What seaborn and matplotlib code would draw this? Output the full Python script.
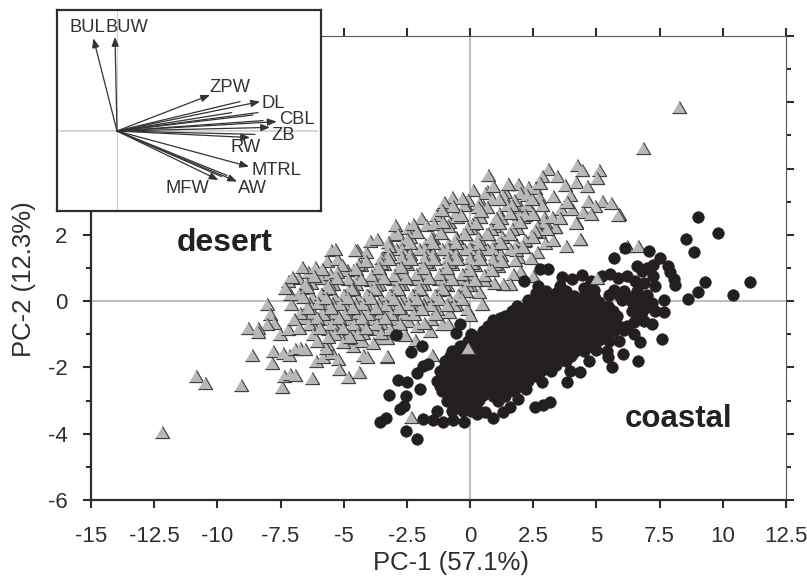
import matplotlib
matplotlib.use("Agg")
import matplotlib.pyplot as plt
import pandas as pd
import seaborn as sns

# valeurs (PC-1, PC-2)
desert_tail = [(-12.19,-3.95),(-10.84,-2.27),(-10.49,-2.46),(-9.06,-2.54),(-8.62,-1.63),(-7.44,-2.6),(-7.36,-2.27),
    (-7.12,-2.2),(-6.93,-2.22),(-6.26,-2.33),(-7.85,-1.88),(-7.78,-1.5),(-7.4,-1.56),(-7.17,-1.62),(-6.93,-1.43),
    (-6.73,-1.42),(-6.53,-1.45),(-6.09,-1.8),(-5.83,-1.68),(-5.47,-1.56),(-5.21,-1.75),(-5.17,-2.06),(-4.82,-2.28),
    (-4.38,-2.13),(-4.22,-1.62),(-4.09,-1.68),(-3.3,-1.68),(-4.64,-1.35),(-4.29,-1.2),(-5.67,-1.3),(-5.7,-1.4),
    (-8.05,-0.08),(-7.91,-0.4),(-7.76,-0.65),(-8.05,-0.7),(-8.78,-0.8),(-8.38,-0.8),(-8.38,-0.92),(-7.52,-0.98),
    (-7.2,-0.85),(-7.08,-0.08)]
desert_head = [(8.27,5.85),(6.83,4.62),(4.25,4.1),(3.1,4.0),(5.1,3.97),(4.42,3.97),(5.04,3.72),(3.43,3.78),(2.84,3.78),
    (3.76,3.5),(4.19,3.58),(4.62,3.48),(1.51,3.54),(1.9,3.54),(2.3,3.45),(2.57,3.4),(2.77,3.55),(3.29,3.18),(3.96,3.21),
    (2.73,3.13),(1.98,3.25),(1.39,3.3),(4.67,3.03),(5.21,3.03),(5.57,2.95),(4.95,2.88),(5.9,2.64),(3.59,2.77),(4.02,2.77),
    (4.46,2.7),(4.78,2.64),(3.83,3.0),(2.84,2.91),(2.93,2.55),(2.44,2.68),(1.98,2.83),(3.36,2.23),(4.19,2.38),(4.35,1.89),
    (6.2,1.67),(6.65,1.67),(4.2,2.35),(4.35,1.86),(3.79,1.65),(5.86,2.6),(2.97,1.75),(3.36,2.25)]
desert_edge = [(2.5,0.75),(1.98,0.9),(1.7,0.82),(1.58,0.51),(1.31,0.51),(0.95,0.55),(0.36,0.28),(0.46,-0.08),(-0.13,-0.25),
    (0,-0.42),(-0.83,-0.32),(-2.45,-0.6),(-2.11,-0.75),(-1.58,-0.9),(-1.12,-0.7),(-0.87,-0.7),(-2.18,-1.17),(-3.64,-1.1),
    (-3.28,-1.67),(-1.52,-1.62),(-6.8,0.7),(-7.2,0.6),(-5.5,1.53),(-5.66,1.2),(-4.47,1.53),(-3.96,1.8),(-3.68,1.86),
    (-3.05,2.0),(-2.97,2.3),(-1.94,2.5),(-1.07,2.94),(-0.71,3.15),(-0.2,2.94),(0.51,2.88),(0.67,3.33),(0.71,3.8),(1.5,3.54)]
desert_over = [(-0.08,-1.4),(-2.35,-3.5),(5.01,0.7)]
desert_up = [(0.12,3.34),(-0.07,3.05),(0.58,3.26),(0.92,3.48),(1.34,3.14),(1.72,3.06),(2.24,3.2),(0.37,2.95),(0.88,3.08),
    (-1.04,3.0),(-0.55,2.7),(-0.24,2.9),(0.3,2.62),(0.66,2.84),(1.14,2.66),(1.46,2.9),(1.94,2.64),(2.27,2.9),
    (-1.36,2.6),(-0.85,2.38),(-0.5,2.55),(0.07,2.34),(0.41,2.55),(0.9,2.33),(1.24,2.5),(1.76,2.36),(2.1,2.55),(2.66,2.28),(2.95,2.38),
    (-2.84,2.03),(-2.45,2.2),(-1.75,2.3),(-1.2,2.08),(-0.86,2.26),(-0.3,2.03),(0.03,2.22),(0.62,2.04),(0.94,2.26),(1.52,2.03),(1.85,2.22),(2.42,1.98),(2.74,2.08),(3.3,1.84),
    (-3.26,1.78),(-2.68,1.72),(-2.36,1.93),(-1.78,1.73),(-1.47,1.92),(-0.88,1.72),(-0.57,1.93),(0.02,1.73),(0.33,1.9),(0.92,1.72),(1.24,1.93),(1.82,1.72),(2.14,1.8),(2.66,1.48),
    (-3.46,1.33),(-2.94,1.57),(-2.62,1.47),(-2.03,1.58),(-1.72,1.46),(-1.13,1.58),(-0.82,1.47),(-0.23,1.58),(0.08,1.46),(0.67,1.56),(0.98,1.42),(1.57,1.56),(1.88,1.34),(2.42,1.3)]
desert_mid = [(-5.35,1.58),(-4.55,1.55),(-5.06,1.1),(-4.44,1.13),(-4.12,1.22),(-3.53,1.14),(-3.22,1.28),(-2.63,1.18),(-2.32,1.28),(-1.73,1.17),(-1.42,1.28),(-0.83,1.17),(-0.52,1.27),(0.07,1.15),(0.38,1.27),(0.97,1.13),(1.28,1.22),
    (-6.66,1.02),(-6.14,1.03),(-5.87,0.97),(-5.28,0.87),(-4.83,0.66),(-4.52,0.97),(-3.93,0.78),(-3.62,0.99),(-3.03,0.8),(-2.72,1.02),(-2.13,0.83),(-1.82,0.99),(-1.23,0.81),(-0.92,1.0),(-0.33,0.83),(-0.02,0.95),(0.57,0.78),(0.88,0.95),
    (-7.06,0.72),(-6.48,0.55),(-6.17,0.77),(-5.58,0.51),(-5.27,0.69),(-4.63,0.41),(-4.32,0.67),(-3.73,0.48),(-3.42,0.69),(-2.83,0.51),(-2.52,0.69),(-1.93,0.51),(-1.62,0.69),(-1.03,0.51),(-0.72,0.67),(-0.13,0.48),(0.18,0.65),
    (-7.31,0.39),(-6.78,0.23),(-6.47,0.42),(-5.88,0.21),(-5.57,0.39),(-4.98,0.18),(-4.67,0.37),(-4.08,0.18),(-3.77,0.37),(-3.18,0.19),(-2.87,0.37),(-2.28,0.2),(-1.97,0.37),(-1.38,0.19),(-1.07,0.37),(-0.48,0.19),(-0.17,0.32),
    (-6.62,0.12),(-6.03,-0.07),(-5.72,0.1),(-5.13,-0.09),(-4.82,0.09),(-4.23,-0.1),(-3.92,0.09),(-3.33,-0.11),(-3.02,0.07),(-2.43,-0.1),(-2.12,0.07),(-1.53,-0.12),(-1.22,0.07),(-0.63,-0.11),(-0.32,0.05)]
desert_low = [(-6.74,-0.37),(-6.42,-0.21),(-5.83,-0.39),(-5.52,-0.2),(-4.93,-0.4),(-4.62,-0.21),(-4.03,-0.4),(-3.72,-0.21),(-3.13,-0.4),(-2.82,-0.21),(-2.23,-0.39),(-1.92,-0.23),(-1.33,-0.4),(-0.9,-0.12),
    (-6.97,-0.53),(-6.38,-0.69),(-6.07,-0.51),(-5.48,-0.7),(-5.17,-0.51),(-4.58,-0.7),(-4.27,-0.51),(-3.68,-0.7),(-3.37,-0.51),(-2.78,-0.69),(-1.83,-0.67),
    (-6.77,-0.81),(-6.23,-0.99),(-5.92,-0.81),(-5.33,-1.0),(-5.02,-0.81),(-4.43,-1.0),(-4.12,-0.81),(-3.53,-0.97),(-3.17,-0.83),(-2.58,-1.02),
    (-6.04,-1.19),(-5.62,-1.08),(-5.03,-1.24),(-4.77,-1.07),(-3.84,-1.25)]
desert_fill = [(-0.69,2.88),(-0.31,3.12),(0.31,2.85),(1.14,3.07),(1.66,2.91),(2.44,3.07),(3.26,2.53),(3.54,2.52),
    (-1.11,2.75),(-0.34,2.61),(0.44,2.72),(1.01,2.51),(1.59,2.67),(2.16,2.61),(2.49,2.62),
    (-2.26,2.32),(-1.44,2.33),(-1.06,2.39),(-0.14,2.21),(0.24,2.37),(0.81,2.18),(1.14,2.37),(1.66,2.18),(1.99,2.39),(2.56,2.13),(3.04,2.17),
    (-2.49,1.88),(-2.11,2.09),(-1.54,1.91),(-1.16,2.07),(-0.54,1.91),(-0.21,2.02),(0.36,1.89),(0.69,2.02),(1.26,1.93),(1.59,2.03),(2.16,1.85),(2.49,1.95),
    (-3.21,1.67),(-2.69,1.58),(-2.36,1.75),(-1.79,1.58),(-1.46,1.75),(-0.89,1.58),(-0.56,1.75),(0.01,1.58),(0.34,1.72),(0.91,1.58),(1.24,1.75),(1.81,1.55),(2.09,1.62),
    (-4.11,1.47),(-3.54,1.31),(-3.21,1.42),(-2.69,1.33),(-2.36,1.43),(-1.79,1.33),(-1.46,1.42),(-0.89,1.31),(-0.56,1.42),(0.01,1.31),(0.34,1.42),(0.91,1.28),(1.24,1.39),(1.76,1.23),
    (-5.26,1.27),(-4.64,0.93),(-4.31,1.09),(-3.74,0.98),(-3.41,1.12),(-2.84,1.01),(-2.51,1.12),(-1.94,1.01),(-1.61,1.12),(-1.04,0.99),(-0.71,1.12),(-0.14,0.98),(0.19,1.1),(0.76,0.96),(1.09,1.07),
    (-6.41,0.87),(-5.89,0.71),(-5.56,0.82),(-4.89,0.95),(-4.51,0.67),(-3.94,0.65),(-3.61,0.83),(-3.04,0.67),(-2.71,0.85),(-2.14,0.67),(-1.81,0.83),(-1.24,0.67),(-0.91,0.83),(-0.34,0.66),(-0.01,0.79),(0.56,0.63),
    (-6.64,0.4),(-6.31,0.55),(-5.74,0.37),(-5.41,0.53),(-4.84,0.35),(-4.51,0.51),(-3.94,0.35),(-3.61,0.53),(-3.04,0.35),(-2.71,0.52),(-2.14,0.35),(-1.81,0.52),(-1.24,0.35),(-0.91,0.5),(-0.34,0.33),(-0.01,0.49),
    (-7.11,0.22),(-6.24,0.11),(-5.91,0.21),(-5.34,0.09),(-5.01,0.19),(-4.44,0.08),(-4.11,0.19),(-3.54,0.07),(-3.21,0.19),(-2.64,0.07),(-2.31,0.19),(-1.74,0.07),(-1.41,0.17),(-0.84,0.06),(-0.51,0.17),
    (-6.36,-0.06),(-5.79,-0.22),(-5.46,-0.05),(-4.89,-0.24),(-4.56,-0.06),(-3.99,-0.24),(-3.66,-0.06),(-3.09,-0.24),(-2.76,-0.07),(-2.19,-0.23),(-1.86,-0.1),(-1.29,-0.23),(-0.56,-0.09),
    (-6.54,-0.52),(-6.21,-0.37),(-5.64,-0.54),(-5.31,-0.36),(-4.74,-0.54),(-4.41,-0.37),(-3.84,-0.54),(-3.51,-0.37),(-2.94,-0.54),(-2.61,-0.38),(-1.54,-0.53),
    (-6.26,-0.68),(-5.64,-0.83),(-5.31,-0.67),(-4.74,-0.84),(-4.41,-0.67),(-3.84,-0.83),(-3.51,-0.67),(-2.94,-0.84),
    (-5.24,-0.96),(-4.86,-1.1),(-4.24,-0.96),(-3.29,-1.12)]

coastal_tail = [(9.03,2.53),(9.8,2.07),(8.53,1.87),(8.87,1.48),(9.3,0.58),(9.03,0.27),(8.61,0.07),(10.4,0.2),(11.07,0.59),
    (7.58,-1.15),(6.73,-1.22),(6.07,-1.6),(6.65,-1.8),(7.19,-0.7),(7.68,0.03),(7.68,-0.32),(5.71,1.3),(6.13,1.6),(7.09,1.5),
    (7.52,1.3),(7.25,1.1),(7.82,1.05),(7.91,0.88),(8.05,0.66),(8.11,0.5),(6.79,0.9),(7.25,0.75),(6.53,0.6),(2.77,0.98),(3.09,0.98),
    (2.13,0.6),(2.69,0.45),(3.63,0.72),(3.56,0.45),(4.02,0.66),(4.42,0.8),(5.54,0.82),(5.86,0.7),(-0.4,-0.7),(-2.93,-1.02),
    (-2.35,-1.53),(-1.91,-1.35),(-1.66,-1.9),(-1.85,-1.95),(-2.11,-2.18),(-2.85,-2.37),(-2.49,-2.45),(-3.2,-2.82),(-2.53,-2.85),
    (-1.98,-2.64),(-2.77,-3.24),(-2.6,-3.15),(-3.32,-3.54),(-3.56,-3.65),(-2.53,-3.92),(-2.1,-4.17),(-1.86,-3.57),(-1.45,-3.58),
    (-1.06,-3.65),(-0.26,-3.65),(-0.66,-3.6),(0.26,-3.4),(0.59,-3.35),(0.92,-3.52),(1.31,-3.33),(1.58,-3.2),(2.57,-3.2),(2.9,-3.12),
    (3.17,-3.05),(3.82,-2.45),(4.35,-2.15),(3.96,-2.1),(5.6,-2.0),(5.47,-1.7),(-0.55,-0.95),(0.9,-0.58),(1.2,-0.5),(0.05,-1.0)]
coastal_top = [(2.6,0.25),(3.0,0.3),(3.4,0.25),(3.8,0.3),(4.5,0.4),(4.9,0.35),(5.7,0.35),(6.1,0.3),(6.6,0.3),(7.0,0.2),
    (2.3,0.02),(2.7,-0.03),(3.1,0.02),(3.5,-0.02),(3.9,0.03),(4.3,-0.02),(4.7,0.03),(5.1,-0.03),(6.0,0.02),(6.4,-0.02),(6.8,0.02),(7.2,-0.05),
    (1.65,-0.3),(2.05,-0.27),(2.45,-0.32),(2.85,-0.28),(3.25,-0.32),(3.65,-0.27),(4.05,-0.32),(4.45,-0.28),(4.85,-0.32),(5.25,-0.28),(5.65,-0.3),(6.4,-0.3),(6.8,-0.32),(7.3,-0.3),
    (1.2,-0.6),(1.6,-0.58),(2.0,-0.62),(2.4,-0.58),(2.8,-0.62),(3.2,-0.58),(3.6,-0.62),(4.0,-0.58),(4.4,-0.62),(4.8,-0.58),(5.2,-0.62),(5.6,-0.58),(6.5,-0.62),(6.9,-0.6),
    (0.5,-0.9),(0.9,-0.88),(1.3,-0.92),(1.7,-0.88),(2.1,-0.92),(2.5,-0.88),(2.9,-0.92),(3.3,-0.88),(3.7,-0.92),(4.1,-0.88),(4.5,-0.92),(4.9,-0.88),(5.3,-0.92),(5.7,-0.9),(6.1,-0.88),
    (4.8,0.6),(5.2,0.75),(6.2,0.75),(6.9,0.55),(7.3,0.45),(7.0,1.0),(6.6,1.05),(5.9,0.2),(5.5,0.2),(6.2,-0.75),(6.5,-1.0),(5.9,-1.2)]
coastal_low = [(-0.1,-1.2),(0.3,-1.18),(0.7,-1.22),(1.1,-1.18),(1.5,-1.22),(1.9,-1.18),(2.3,-1.22),(2.7,-1.18),(3.1,-1.22),(3.5,-1.18),(3.9,-1.22),(4.3,-1.18),(4.7,-1.22),(5.1,-1.18),(5.5,-1.2),
    (-0.7,-1.5),(-0.3,-1.48),(0.1,-1.52),(0.5,-1.48),(0.9,-1.52),(1.3,-1.48),(1.7,-1.52),(2.1,-1.48),(2.5,-1.52),(2.9,-1.48),(3.3,-1.52),(3.7,-1.48),(4.1,-1.52),(4.5,-1.5),(5.0,-1.48),(5.4,-1.5),
    (-1.0,-1.8),(-0.6,-1.78),(-0.2,-1.82),(0.2,-1.78),(0.6,-1.82),(1.0,-1.78),(1.4,-1.82),(1.8,-1.78),(2.2,-1.82),(2.6,-1.78),(3.0,-1.82),(3.4,-1.78),(3.8,-1.82),(4.7,-1.8),
    (-1.2,-2.1),(-0.8,-2.08),(-0.4,-2.12),(0.0,-2.08),(0.4,-2.12),(0.8,-2.08),(1.2,-2.12),(1.6,-2.08),(2.0,-2.12),(2.4,-2.08),(2.8,-2.12),(3.2,-2.1),
    (-1.3,-2.4),(-0.9,-2.38),(-0.5,-2.42),(-0.1,-2.38),(0.3,-2.42),(0.7,-2.38),(1.1,-2.42),(1.5,-2.38),(1.9,-2.42),(2.3,-2.4),(2.85,-2.45),
    (-1.1,-2.7),(-0.7,-2.68),(-0.3,-2.72),(0.1,-2.68),(0.5,-2.72),(0.9,-2.68),(1.3,-2.72),(1.75,-2.7),(2.2,-2.65),
    (-0.9,-3.0),(-0.45,-2.98),(-0.05,-3.02),(0.35,-2.98),(1.1,-3.0),(1.9,-2.95),
    (-1.3,-3.3),(-0.7,-3.3),(-0.3,-3.32),(0.05,-3.3)]
coastal_fill = [(2.8,0.12),(3.2,0.15),(3.6,0.12),(4.1,0.15),(4.5,0.15),(4.9,0.15),(6.2,0.15),(6.6,0.12),
    (1.85,-0.14),(2.25,-0.15),(2.65,-0.15),(3.05,-0.15),(3.45,-0.16),(3.85,-0.15),(4.25,-0.16),(4.65,-0.15),(5.05,-0.16),(5.45,-0.15),(6.6,-0.17),(7.0,-0.18),
    (1.4,-0.45),(1.8,-0.44),(2.2,-0.46),(2.6,-0.44),(3.0,-0.46),(3.4,-0.44),(3.8,-0.46),(4.2,-0.44),(4.6,-0.46),(5.0,-0.44),(5.4,-0.46),(5.8,-0.44),(6.65,-0.46),
    (0.7,-0.75),(1.1,-0.74),(1.5,-0.76),(1.9,-0.74),(2.3,-0.76),(2.7,-0.74),(3.1,-0.76),(3.5,-0.74),(3.9,-0.76),(4.3,-0.74),(4.7,-0.76),(5.1,-0.74),(5.5,-0.76),(5.9,-0.74),
    (0.1,-1.05),(0.5,-1.04),(0.9,-1.06),(1.3,-1.04),(1.7,-1.06),(2.1,-1.04),(2.5,-1.06),(2.9,-1.04),(3.3,-1.06),(3.7,-1.04),(4.1,-1.06),(4.5,-1.04),(4.9,-1.06),(5.3,-1.04),
    (-0.4,-1.35),(0.0,-1.34),(0.4,-1.36),(0.8,-1.34),(1.2,-1.36),(1.6,-1.34),(2.0,-1.36),(2.4,-1.34),(2.8,-1.36),(3.2,-1.34),(3.6,-1.36),(4.0,-1.34),(4.4,-1.36),(4.8,-1.34),
    (-0.8,-1.65),(-0.4,-1.64),(0.0,-1.66),(0.4,-1.64),(0.8,-1.66),(1.2,-1.64),(1.6,-1.66),(2.0,-1.64),(2.4,-1.66),(2.8,-1.64),(3.2,-1.66),(3.6,-1.64),(4.0,-1.66),
    (-1.0,-1.95),(-0.6,-1.94),(-0.2,-1.96),(0.2,-1.94),(0.6,-1.96),(1.0,-1.94),(1.4,-1.96),(1.8,-1.94),(2.2,-1.96),(2.6,-1.94),(3.0,-1.96),(3.4,-1.94),
    (-1.0,-2.25),(-0.6,-2.24),(-0.2,-2.26),(0.2,-2.24),(0.6,-2.26),(1.0,-2.24),(1.4,-2.26),(1.8,-2.24),(2.2,-2.26),(2.6,-2.25),
    (-1.2,-2.55),(-0.8,-2.54),(-0.4,-2.56),(0.0,-2.54),(0.4,-2.56),(0.8,-2.54),(1.2,-2.56),(1.6,-2.54),(2.0,-2.55),
    (-0.7,-2.85),(-0.3,-2.84),(0.1,-2.86),(0.5,-2.84),(0.9,-2.86),(1.4,-2.85),
    (-0.55,-3.15),(-0.15,-3.14),(0.25,-3.15)]

load_names = ["BUL","BUW","ZPW","DL","CBL","ZB","RW","MTRL","AW","MFW"]
load_x = [-0.118,-0.01,0.465,0.715,0.798,0.765,0.665,0.66,0.6,0.507]
load_y = [0.463,0.47,0.18,0.147,0.047,0.018,-0.033,-0.178,-0.253,-0.245]
extra_x = [0.615,0.573,0.705,0.68,0.73,0.69,0.523,0.55]
extra_y = [0.147,0.092,0.092,0.08,0.052,-0.017,-0.228,-0.222]
x_ticks = [-15,-12.5,-10,-7.5,-5,-2.5,0,2.5,5,7.5,10,12.5]
x_labels = ["-15","-12.5","-10","-7.5","-5","-2.5","0","2.5","5","7.5","10","12.5"]
y_ticks = [-6,-4,-2,0,2,4,6,8]
y_labels = ["-6","-4","-2","0","2","4","6","8"]
y_minor = [-5,-3,-1,1,3,5,7]

W, H = 807, 578
TRI = [(-1,-0.85),(1,-0.85),(0,0.85)]
DARK = "#2e2e2e"

sns.set_theme(style="ticks")
plt.rcParams["font.family"] = ["Liberation Sans", "DejaVu Sans"]

def to_frame(*groups):
    pts = [p for g in groups for p in g]
    return pd.DataFrame(pts, columns=["pc1", "pc2"])

fig = plt.figure(figsize=(W/100, H/100), dpi=100)
ax = fig.add_axes([91/W, 1-500/H, 695/W, 464/H])

ax.axhline(0, color="#bdbdbd", lw=1.4, zorder=0)
ax.axvline(0, color="#bdbdbd", lw=1.4, zorder=0)

tri_kw = dict(marker=TRI, s=105, color="#b8b8b8", edgecolor="#404040", linewidth=0.85, ax=ax, legend=False)
sns.scatterplot(data=to_frame(desert_tail, desert_head, desert_edge, desert_up, desert_fill, desert_mid, desert_low),
                x="pc1", y="pc2", zorder=2, **tri_kw)
sns.scatterplot(data=to_frame(coastal_tail, coastal_top, coastal_low, coastal_fill), x="pc1", y="pc2", marker="o", s=72,
                color="#231f20", edgecolor="#231f20", linewidth=0.3, ax=ax, legend=False, zorder=3)
sns.scatterplot(data=to_frame(desert_over), x="pc1", y="pc2", zorder=4, **tri_kw)

ax.set_xlim(-15, 12.5)
ax.set_ylim(-6, 8)
ax.set_xticks(x_ticks)
ax.set_xticklabels(x_labels)
ax.set_yticks(y_ticks)
ax.set_yticklabels(y_labels)
ax.set_yticks(y_minor, minor=True)
ax.tick_params(axis="both", which="major", length=6, width=1.5, color=DARK, labelsize=16, labelcolor=DARK, pad=11)
ax.tick_params(axis="y", which="minor", length=3.5, width=1.5, color=DARK)
ax.tick_params(axis="x", which="major", pad=13)
ax.tick_params(top=True, right=True, which="both")
for side in ["left", "bottom"]:
    ax.spines[side].set_linewidth(1.6)
    ax.spines[side].set_color(DARK)
for side in ["top", "right"]:
    ax.spines[side].set_linewidth(0.8)
    ax.spines[side].set_color("#555555")
ax.set_xlabel("PC-1 (57.1%)", fontsize=18.5, color=DARK)
ax.set_ylabel("PC-2 (12.3%)", fontsize=18.5, color=DARK)
ax.xaxis.set_label_coords(0.518, -0.11)
ax.yaxis.set_label_coords(-0.079, 0.476)

ax.text(-11.6, 1.75, "desert", fontsize=23, fontweight="bold", color="#222222", ha="left", va="center")
ax.text(6.1, -3.55, "coastal", fontsize=22.5, fontweight="bold", color="#222222", ha="left", va="center")

# encart des vecteurs
ins = fig.add_axes([57/W, 1-211/H, 264/W, 201/H], zorder=5, facecolor="white")
ins.set_xlim(-0.30, 1.02)
ins.set_ylim(-0.40, 0.605)
ins.set_xticks([])
ins.set_yticks([])
for s in ins.spines.values():
    s.set_linewidth(1.6)
    s.set_color(DARK)
ins.axhline(0, color="#d0d0d0", lw=1.2, xmin=0.01, xmax=0.99, zorder=0)
ins.axvline(0, color="#d0d0d0", lw=0.8, zorder=0)
for ex, ey in zip(extra_x, extra_y):
    ins.plot([0, ex], [0, ey], color="#333333", lw=0.9)
for lx, ly in zip(load_x, load_y):
    ins.annotate("", xy=(lx, ly), xytext=(0, 0),
                 arrowprops=dict(arrowstyle="-|>,head_length=0.45,head_width=0.18", color="#333333", lw=0.9,
                                 shrinkA=0, shrinkB=0))
label_px = [(87,28),(127,27),(230,88),(273,104),(297,120),(283,136),(246,148),(276,171),(252,189),(187,189)]
for name, (px, py) in zip(load_names, label_px):
    ins.text((px-57)/264, (211-py)/201, name, transform=ins.transAxes, fontsize=13.2, color="#333333",
             ha="center", va="center")

fig.savefig("out.png", dpi=100)
